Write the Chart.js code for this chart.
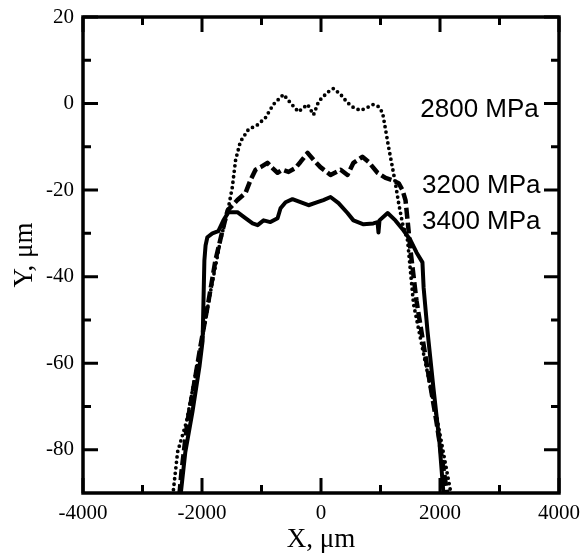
<!DOCTYPE html>
<html>
<head>
<meta charset="utf-8">
<script src="https://cdn.jsdelivr.net/npm/chart.js@4"></script>
<style>
  body { margin: 0; background: #fff; }
  #wrap { width: 583px; height: 556px; }
</style>
</head>
<body>
<div id="wrap"><canvas id="chart" width="583" height="556"></canvas></div>
<script>
// profile data (X in um, Y in um)
const x2800 = [-2490, -2410, -2260, -2080, -1975, -1855, -1755, -1690, -1555, -1490, -1435, -1355, -1220, -1065, -935, -800, -630, -515, -380, -225, -125, -40, 110, 210, 330, 445, 545, 665, 780, 880, 965, 1035, 1085, 1135, 1200, 1250, 1305, 1370, 1455, 1555, 1725, 1960, 2180]
const y2800 = [-90.5, -80.5, -73.5, -60.5, -52.6, -43.3, -36.3, -31.6, -24, -19.3, -13, -8.8, -6, -4.9, -3.3, -0.2, 2.1, 0.2, -1.9, -0.2, -2.6, 0.5, 2.6, 3.5, 2.1, 0.2, -0.9, -1.6, -0.9, -0.2, -0.7, -2.1, -6, -10, -14.7, -18.4, -23, -27.7, -31.6, -46.3, -57.9, -73.5, -89.8]

const x3200 = [-2380, -2345, -2245, -2125, -2025, -1890, -1775, -1655, -1570, -1405, -1270, -1185, -1100, -1015, -900, -815, -730, -645, -545, -430, -345, -225, -125, -10, 160, 330, 445, 545, 695, 800, 950, 1085, 1200, 1305, 1370, 1420, 1455, 1505, 1605, 1755, 1940, 2125]
const y3200 = [-90.5, -85.1, -73.5, -64.2, -56, -45.6, -36.3, -29.3, -24.7, -22.3, -20.7, -17.7, -15.3, -14.7, -13.7, -14.9, -16, -15.3, -15.8, -14.9, -13.5, -11.4, -13, -14.7, -16.5, -15.3, -16.5, -13.7, -12.3, -13.5, -16, -17.2, -17.7, -18.4, -20, -22.3, -27, -34, -45.6, -58.4, -73.5, -90.5]

const x3400 = [-2360, -2280, -2160, -2040, -1990, -1975, -1960, -1940, -1910, -1825, -1725, -1640, -1555, -1405, -1270, -1150, -1065, -965, -850, -730, -680, -595, -480, -345, -210, -60, 40, 160, 295, 445, 545, 715, 880, 950, 966, 983, 1120, 1250, 1385, 1505, 1605, 1705, 1725, 1790, 1890, 1990, 2060]
const y3400 = [-90.5, -80.5, -71.2, -60.5, -54.9, -45.6, -36.3, -32.8, -30.9, -30, -29.5, -27, -25.1, -25.1, -26.5, -27.7, -28.1, -27, -27.4, -26.5, -24.2, -22.8, -22.1, -22.8, -23.5, -22.8, -22.3, -21.6, -23, -25.3, -27, -27.9, -27.7, -27.4, -29.8, -27, -25.3, -27, -29.3, -31.6, -34.4, -36.7, -42.6, -52.6, -65.8, -78.1, -90.5]

const seriesNames = ['2800 MPa', '3200 MPa', '3400 MPa']
const labelX = [3660, 3690, 3690]     // right end of each curve label
const labelY = [-3, -20.6, -29.1]     // baseline of each curve label

const xTicks = [-4000, -2000, 0, 2000, 4000]
const xMinor = [-3000, -1000, 1000, 3000]
const yTicks = [-80, -60, -40, -20, 0, 20]
const yMinor = [10, -10, -30, -50, -70]

const toPoints = (xs, ys) => xs.map((x, i) => ({x: x, y: ys[i]}))

// box + inward ticks on all four sides, and the curve labels
const framePlugin = {
  id: 'frame',
  afterDatasetsDraw (chart) {
    const ctx = chart.ctx
    const a = chart.chartArea
    const sx = chart.scales.x
    const sy = chart.scales.y
    ctx.save()
    ctx.strokeStyle = '#000'
    ctx.lineWidth = 3.5
    ctx.strokeRect(a.left, a.top, a.right - a.left, a.bottom - a.top)

    ctx.lineWidth = 3
    const xTick = (v, len) => {
      const p = sx.getPixelForValue(v)
      ctx.beginPath()
      ctx.moveTo(p, a.bottom); ctx.lineTo(p, a.bottom - len)
      ctx.moveTo(p, a.top); ctx.lineTo(p, a.top + len)
      ctx.stroke()
    }
    const yTick = (v, len) => {
      const p = sy.getPixelForValue(v)
      ctx.beginPath()
      ctx.moveTo(a.left, p); ctx.lineTo(a.left + len, p)
      ctx.moveTo(a.right, p); ctx.lineTo(a.right - len, p)
      ctx.stroke()
    }
    xTicks.forEach(v => xTick(v, 15))
    xMinor.forEach(v => xTick(v, 8))
    yTicks.forEach(v => yTick(v, 15))
    yMinor.forEach(v => yTick(v, 8))

    ctx.fillStyle = '#000'
    ctx.font = '26px "Liberation Sans", Arial, sans-serif'
    ctx.textAlign = 'right'
    ctx.textBaseline = 'alphabetic'
    seriesNames.forEach((name, i) => {
      ctx.fillText(name, sx.getPixelForValue(labelX[i]), sy.getPixelForValue(labelY[i]))
    })
    ctx.restore()
  }
}

const serif = '"Liberation Serif", "Times New Roman", serif'

new Chart('chart', {
  type: 'scatter',
  data: {
    datasets: [{
      label: seriesNames[0],
      data: toPoints(x2800, y2800),
      showLine: true,
      borderColor: '#000',
      borderWidth: 3.8,
      borderDash: [0, 5.5],
      borderCapStyle: 'round',
      borderJoinStyle: 'round',
      pointRadius: 0
    }, {
      label: seriesNames[1],
      data: toPoints(x3200, y3200),
      showLine: true,
      borderColor: '#000',
      borderWidth: 4.5,
      borderDash: [11, 4],
      borderJoinStyle: 'round',
      pointRadius: 0
    }, {
      label: seriesNames[2],
      data: toPoints(x3400, y3400),
      showLine: true,
      borderColor: '#000',
      borderWidth: 4,
      borderJoinStyle: 'round',
      pointRadius: 0
    }]
  },
  options: {
    responsive: false,
    animation: false,
    devicePixelRatio: 1,
    layout: {padding: {left: 0, top: 17, right: 24, bottom: 0}},
    plugins: {legend: {display: false}, tooltip: {enabled: false}},
    scales: {
      x: {
        type: 'linear',
        min: -4000,
        max: 4000,
        grid: {display: false, drawTicks: false},
        border: {display: false},
        afterBuildTicks: (s) => { s.ticks = xTicks.map(v => ({value: v})) },
        afterFit: (s) => { s.height = 63; s.paddingLeft = 0; s.paddingRight = 0 },
        ticks: {color: '#000', font: {family: serif, size: 21}, padding: 8, maxRotation: 0, callback: (v) => String(v)},
        title: {display: true, text: 'X, μm', color: '#000', font: {family: serif, size: 27}, padding: {top: 0, bottom: 0}}
      },
      y: {
        type: 'linear',
        min: -90,
        max: 20,
        grid: {display: false, drawTicks: false},
        border: {display: false},
        afterBuildTicks: (s) => { s.ticks = yTicks.map(v => ({value: v})) },
        afterFit: (s) => { s.width = 83; s.paddingTop = 0; s.paddingBottom = 0 },
        ticks: {color: '#000', font: {family: serif, size: 21}, padding: 9, callback: (v) => String(v)},
        title: {display: true, text: 'Y, μm', color: '#000', font: {family: serif, size: 27}, padding: {top: 9, bottom: 0}}
      }
    }
  },
  plugins: [framePlugin]
})
</script>
</body>
</html>
